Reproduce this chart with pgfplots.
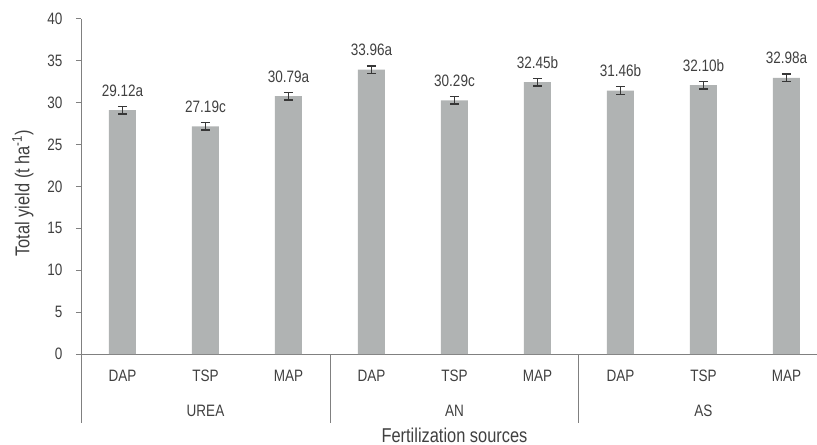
\documentclass[border=0pt]{standalone}
\usepackage{pgfplots}
\pgfplotsset{compat=1.18}
\usepackage{pgfplotstable}
\usepackage{fontspec}
\setmainfont{Liberation Sans}[FakeStretch=0.82]

\definecolor{barcol}{RGB}{176,179,179}
\definecolor{errcol}{RGB}{55,55,55}
\definecolor{txtcol}{RGB}{64,64,64}
\definecolor{axcol}{RGB}{128,128,128}

\newcommand{\chartfont}{\fontsize{16.5bp}{19bp}\selectfont}
\newcommand{\titlefont}{\fontsize{20bp}{23bp}\selectfont}

% x, mean yield, error, label with significance letter
\pgfplotstableread{
x y err lab
0 29.12 0.45 29.12a
1 27.19 0.45 27.19c
2 30.79 0.45 30.79a
3 33.96 0.45 33.96a
4 30.29 0.45 30.29c
5 32.45 0.45 32.45b
6 31.46 0.45 31.46b
7 32.10 0.45 32.10b
8 32.98 0.45 32.98a
}\yieldtable

\begin{document}
\begin{tikzpicture}
\begin{axis}[
  scale only axis,
  width=747bp, height=335bp,
  xmin=-0.5, xmax=8.5,
  ymin=0, ymax=40,
  ytick={0,5,...,40},
  xtick=\empty,
  axis x line=bottom, axis y line=left,
  axis line style={-, draw=axcol, line width=1pt},
  y tick style={draw=axcol, line width=1pt},
  tick align=outside,
  major tick length=5bp,
  ticklabel style={font=\chartfont, text=txtcol},
  /pgf/number format/assume math mode=true,
  yticklabel style={xshift=-10bp},
  clip=false,
  every node near coord/.append style={anchor=base, inner sep=0pt, yshift=14bp, font=\chartfont, text=txtcol},
]
\coordinate (O) at (rel axis cs:0,0);
\addplot[ybar, bar width=27bp, fill=barcol, draw=none,
  point meta=explicit symbolic,
  nodes near coords={\pgfplotspointmeta},
  error bars/.cd, y dir=both, y explicit,
  error bar style={draw=errcol, line width=1.4pt},
  error mark options={rotate=90, mark size=4.5bp, draw=errcol, line width=1.4pt}]
  table[x=x, y=y, y error=err, meta=lab] {\yieldtable};

% extended y axis and group separators
\draw[axcol, line width=1pt] (rel axis cs:0,0) -- ++(0pt,-69bp);
\draw[axcol, line width=1pt] (axis cs:2.5,0) -- ++(0pt,-69bp);
\draw[axcol, line width=1pt] (axis cs:5.5,0) -- ++(0pt,-69bp);

% phosphorus sources
\node[font=\chartfont, text=txtcol, inner sep=0pt] at ([yshift=-22bp]axis cs:0,0) {DAP};
\node[font=\chartfont, text=txtcol, inner sep=0pt] at ([yshift=-22bp]axis cs:1,0) {TSP};
\node[font=\chartfont, text=txtcol, inner sep=0pt] at ([yshift=-22bp]axis cs:2,0) {MAP};
\node[font=\chartfont, text=txtcol, inner sep=0pt] at ([yshift=-22bp]axis cs:3,0) {DAP};
\node[font=\chartfont, text=txtcol, inner sep=0pt] at ([yshift=-22bp]axis cs:4,0) {TSP};
\node[font=\chartfont, text=txtcol, inner sep=0pt] at ([yshift=-22bp]axis cs:5,0) {MAP};
\node[font=\chartfont, text=txtcol, inner sep=0pt] at ([yshift=-22bp]axis cs:6,0) {DAP};
\node[font=\chartfont, text=txtcol, inner sep=0pt] at ([yshift=-22bp]axis cs:7,0) {TSP};
\node[font=\chartfont, text=txtcol, inner sep=0pt] at ([yshift=-22bp]axis cs:8,0) {MAP};

% nitrogen sources
\node[font=\chartfont, text=txtcol, inner sep=0pt] at ([yshift=-57bp]axis cs:1,0) {UREA};
\node[font=\chartfont, text=txtcol, inner sep=0pt] at ([yshift=-57bp]axis cs:4,0) {AN};
\node[font=\chartfont, text=txtcol, inner sep=0pt] at ([yshift=-57bp]axis cs:7,0) {AS};

% axis titles
\node[font=\titlefont, text=txtcol, inner sep=0pt, anchor=base] at ([yshift=-88bp]rel axis cs:0.5,0) {Fertilization sources};
\node[font=\titlefont, text=txtcol, inner sep=0pt, rotate=90] at ([xshift=-58bp]rel axis cs:0,0.48) {Total yield (t ha\textsuperscript{-1})};
\end{axis}
\pgfresetboundingbox
\path (O) ++(-81bp,-91bp) rectangle ++(817bp,445bp);
\end{tikzpicture}
\end{document}
